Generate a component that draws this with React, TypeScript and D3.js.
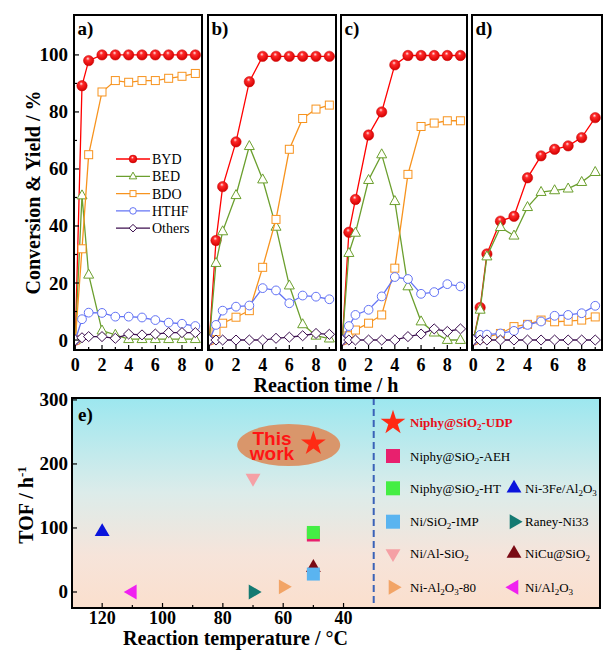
import React from 'react';
import * as d3 from 'd3';

// ---------- data: panels a-d (reaction time, h) ----------
const timeH = [0, 0.5, 1, 2, 3, 4, 5, 6, 7, 8, 9];
const seriesNames = ['BYD', 'BED', 'BDO', 'HTHF', 'Others'];

const aBYD = [0, 89.2, 98, 100, 100, 100, 100, 100, 100, 100, 100];
const aBED = [0, 50.7, 22.9, 3.3, 1.8, 0.3, 0.3, 0.3, 0.3, 0.3, 0.3];
const aBDO = [0, 32, 65, 87, 91, 90.4, 91, 91, 91.8, 92.5, 93.5];
const aHTHF = [0, 7.3, 9.6, 9.5, 8.2, 8.2, 7.9, 7.0, 6.1, 5.7, 4.9];
const aOthers = [0, 0.8, 1.2, 1.2, 0.6, 2.1, 1.8, 2.1, 2.6, 2.6, 2.6];

const bBYD = [0, 34.9, 53.8, 69.5, 90.6, 99.5, 99.5, 99.5, 99.5, 99.5, 99.5];
const bBED = [0, 27, 38.1, 50.8, 68, 56.3, 39.7, 19.1, 5.5, 1.5, 0.5];
const bBDO = [0, 2.9, 5.9, 8, 10.3, 25.5, 42.3, 66.9, 77.7, 81, 82.4];
const bHTHF = [0, 5.3, 10.3, 11.7, 12.1, 18.2, 17.4, 12.9, 15.6, 15.2, 14.3];
const bOthers = [0, 0, 0, 0, 0, 0, 0.6, 1.0, 1.5, 2.3, 2.0];

const cBYD = [0, 37.8, 49.3, 71.9, 80, 96.5, 99.8, 99.8, 99.8, 99.8, 99.8];
const cBED = [0, 30.5, 37.6, 56.1, 65.1, 48.7, 18.8, 6.5, 2.6, 0, 0];
const cBDO = [0, 1.5, 3.5, 5.9, 8.8, 25.2, 58.1, 74.9, 76.1, 76.9, 76.9];
const cHTHF = [0, 4.9, 8.8, 10.6, 15.3, 22.1, 21.4, 16.2, 16.8, 19.6, 18.8];
const cOthers = [0, 0, 0, 0, 0, 0, 1.2, 2.1, 3.9, 3.0, 3.9];

const dBYD = [0, 11.4, 30.2, 41.7, 43.4, 56.9, 64.6, 66.9, 68.1, 71, 78];
const dBED = [0, 10.6, 29.3, 39.6, 36.6, 46.6, 51.9, 52.5, 53.1, 55.4, 58.9];
const dBDO = [0, 0.6, 1.0, 2.3, 4.7, 5.5, 7.0, 6.4, 6.6, 7.0, 8.1];
const dHTHF = [0, 1.8, 1.9, 2.3, 3.2, 5.3, 6.5, 8.5, 8.8, 9.4, 12];
const dOthers = [0, 0, 0, 0, 0, 0, 0, 0, 0, 0, 0];

const timeTicks = [0, 2, 4, 6, 8];
const yieldTicks = [0, 20, 40, 60, 80, 100];

// ---------- data: panel e ----------
const catalysts = [
  'Niphy@SiO_2-UDP', 'Niphy@SiO_2-AEH', 'Niphy@SiO_2-HT', 'Ni/SiO_2-IMP', 'Ni/Al-SiO_2',
  'Ni-Al_2O_3-80', 'Ni-3Fe/Al_2O_3', 'Raney-Ni33', 'NiCu@SiO_2', 'Ni/Al_2O_3',
];
const catTemp = [50, 50, 50, 50, 70, 60, 120, 70, 50, 110];
const catTOF = [232, 89, 93, 28, 178, 8, 94, 0, 38, 0];
const tempTicks = [120, 100, 80, 60, 40];
const tofTicks = [0, 100, 200, 300];

// ---------- styles ----------
const serif = '"Liberation Serif", "Times New Roman", serif';
const sans = '"Liberation Sans", Arial, sans-serif';

const seriesStyle: Record<string, { color: string; marker: string }> = {
  BYD: { color: '#ff0000', marker: 'ball' },
  BED: { color: '#6b9f2e', marker: 'triangle' },
  BDO: { color: '#f7931e', marker: 'square' },
  HTHF: { color: '#6474f5', marker: 'circle' },
  Others: { color: '#3c0f4f', marker: 'diamond' },
};

const catStyle = [
  { shape: 'star', color: '#ff2a14', col: 0, row: 0 },
  { shape: 'square', color: '#e8206e', col: 0, row: 1 },
  { shape: 'square', color: '#44ee44', col: 0, row: 2 },
  { shape: 'square', color: '#5ab4f0', col: 0, row: 3 },
  { shape: 'down', color: '#f5a0a5', col: 0, row: 4 },
  { shape: 'right', color: '#f2a466', col: 0, row: 5 },
  { shape: 'up', color: '#0a14dc', col: 1, row: 2 },
  { shape: 'right', color: '#147a72', col: 1, row: 3 },
  { shape: 'up', color: '#7a0a14', col: 1, row: 4 },
  { shape: 'left', color: '#f020f0', col: 1, row: 5 },
];
const drawOrder = [6, 9, 4, 7, 5, 8, 3, 1, 2, 0];

function Marker({ type, x, y, s = 1, color }: any) {
  switch (type) {
    case 'ball':
      return <circle cx={x} cy={y} r={5.2 * s} fill="url(#ballGrad)" stroke="#c80000" strokeWidth={0.5} />;
    case 'triangle':
      return (
        <path
          d={`M${x},${y - 5.6 * s}L${x + 5 * s},${y + 3.4 * s}L${x - 5 * s},${y + 3.4 * s}Z`}
          fill="#fffffa" stroke={color} strokeWidth={1}
        />
      );
    case 'square':
      return <rect x={x - 4 * s} y={y - 4 * s} width={8 * s} height={8 * s} fill="#fff" stroke={color} strokeWidth={1} />;
    case 'circle':
      return <circle cx={x} cy={y} r={4.4 * s} fill="#fff" stroke={color} strokeWidth={1} />;
    case 'diamond':
      return (
        <path
          d={`M${x},${y - 5 * s}L${x + 5.2 * s},${y}L${x},${y + 5 * s}L${x - 5.2 * s},${y}Z`}
          fill="#fff" stroke={color} strokeWidth={1}
        />
      );
    default:
      return null;
  }
}

function triPath(dir: string, cx: number, cy: number, r: number) {
  const base: Record<string, number> = { up: -90, down: 90, right: 0, left: 180 };
  const a0 = base[dir];
  const pts = [0, 120, 240].map((d) => {
    const a = ((a0 + d) * Math.PI) / 180;
    return [cx + r * Math.cos(a), cy + r * Math.sin(a)];
  });
  return `M${pts[0][0]},${pts[0][1]}L${pts[1][0]},${pts[1][1]}L${pts[2][0]},${pts[2][1]}Z`;
}

function CatSymbol({ shape, color, x, y, size }: any) {
  if (shape === 'star') {
    const r = 13;
    const d = d3.symbol(d3.symbolStar, (r * r) / 0.8908)() as string;
    return <path d={d} transform={`translate(${x},${y})`} fill={color} />;
  }
  if (shape === 'square') {
    return <rect x={x - size / 2} y={y - size / 2} width={size} height={size} fill={color} />;
  }
  return <path d={triPath(shape, x, y, 8.6)} fill={color} />;
}

function SubText({ text, ...rest }: any) {
  const parts = text.split(/_(\d)/);
  const out: any[] = [];
  let shifted = false;
  parts.forEach((p: string, i: number) => {
    if (i % 2 === 1) {
      out.push(<tspan key={i} dy={3} fontSize={9}>{p}</tspan>);
      shifted = true;
    } else if (p) {
      out.push(<tspan key={i} dy={shifted ? -3 : 0}>{p}</tspan>);
      shifted = false;
    }
  });
  return <text {...rest}>{out}</text>;
}

const Y0 = 15;
const Y1 = 350;
const yScale = d3.scaleLinear().domain([-3.5, 114]).range([Y1, Y0]);

function Panel({ label, x0, x1, series, showY, showLegend, id }: any) {
  const xScale = d3.scaleLinear().domain([-0.1, 9.5]).range([x0, x1]);
  const line = d3.line<number>().x((_, i) => xScale(timeH[i])).y((v) => yScale(v));
  const minorTime = d3.range(0, 10, 1);
  return (
    <g>
      <defs>
        <clipPath id={`clip-${id}`}>
          <rect x={x0} y={Y0} width={x1 - x0} height={Y1 - Y0} />
        </clipPath>
      </defs>
      <rect x={x0} y={Y0} width={x1 - x0} height={Y1 - Y0} fill="#fff" />
      <g clipPath={`url(#clip-${id})`}>
        {seriesNames.map((name, si) => {
          const st = seriesStyle[name];
          const vals: number[] = series[si];
          return (
            <g key={name}>
              <path d={line(vals) as string} fill="none" stroke={st.color} strokeWidth={1.3} />
              {vals.map((v, i) => (
                <Marker key={i} type={st.marker} x={xScale(timeH[i])} y={yScale(v)} color={st.color} />
              ))}
            </g>
          );
        })}
      </g>
      {minorTime.map((t) => (
        <line key={t} x1={xScale(t)} x2={xScale(t)} y1={Y1} y2={Y1 - (t % 2 === 0 ? 5 : 3)} stroke="#000" strokeWidth={1.2} />
      ))}
      {timeTicks.map((t) => (
        <text key={t} x={xScale(t)} y={371} textAnchor="middle" fontFamily={serif} fontWeight="bold" fontSize={18}>
          {t}
        </text>
      ))}
      {showY && (
        <g>
          {d3.range(0, 110, 10).map((v) => (
            <line key={v} x1={x0} x2={x0 + (v % 20 === 0 ? 5 : 3)} y1={yScale(v)} y2={yScale(v)} stroke="#000" strokeWidth={1.2} />
          ))}
          {yieldTicks.map((v) => (
            <text key={v} x={68} y={yScale(v) + 6.5} textAnchor="end" fontFamily={serif} fontWeight="bold" fontSize={19}>
              {v}
            </text>
          ))}
        </g>
      )}
      {showLegend && (
        <g>
          {seriesNames.map((name, i) => {
            const st = seriesStyle[name];
            const y = 159 + i * 17.3;
            return (
              <g key={name}>
                <line x1={116} x2={150} y1={y} y2={y} stroke={st.color} strokeWidth={1.3} />
                <Marker type={st.marker} x={133} y={y} s={0.75} color={st.color} />
                <text x={152} y={y + 5} fontFamily={serif} fontSize={14}>{name}</text>
              </g>
            );
          })}
        </g>
      )}
      <rect x={x0} y={Y0} width={x1 - x0} height={Y1 - Y0} fill="none" stroke="#000" strokeWidth={2} />
      <text x={x0 + 3.5} y={35} fontFamily={serif} fontWeight="bold" fontSize={19}>{label}</text>
    </g>
  );
}

function PanelE() {
  const X0 = 72, X1 = 600, EY0 = 398, EY1 = 608;
  const xs = d3.scaleLinear().domain([130, -45]).range([X0, X1]);
  const ys = d3.scaleLinear().domain([-25, 303]).range([EY1, EY0]);
  const legX = [393, 514];
  const legTextX = [410, 525];
  const legRows = [422.7, 456, 488.3, 521.7, 553.5, 587.3];
  return (
    <g>
      <defs>
        <linearGradient id="bgGrad" x1="0" y1="0" x2="0" y2="1">
          <stop offset="0" stopColor="#9ce7ef" />
          <stop offset="0.45" stopColor="#dcecea" />
          <stop offset="0.75" stopColor="#f6e4da" />
          <stop offset="1" stopColor="#fbdfcd" />
        </linearGradient>
      </defs>
      <rect x={X0} y={EY0} width={X1 - X0} height={EY1 - EY0} fill="url(#bgGrad)" />
      <line x1={xs(30)} x2={xs(30)} y1={EY0} y2={EY1} stroke="#3a62b8" strokeWidth={2} strokeDasharray="7,4" />
      {d3.range(40, 130, 10).map((t) => (
        <line key={t} x1={xs(t)} x2={xs(t)} y1={EY1} y2={EY1 - (t % 20 === 0 ? 5 : 3)} stroke="#000" strokeWidth={1.2} />
      ))}
      {tofTicks.map((v) => (
        <line key={v} x1={X0} x2={X0 + 5} y1={ys(v)} y2={ys(v)} stroke="#000" strokeWidth={1.2} />
      ))}
      {tempTicks.map((t) => (
        <text key={t} x={xs(t)} y={624} textAnchor="middle" fontFamily={serif} fontWeight="bold" fontSize={18}>{t}</text>
      ))}
      {tofTicks.map((v) => (
        <text key={v} x={68} y={ys(v) + 6.5} textAnchor="end" fontFamily={serif} fontWeight="bold" fontSize={19}>{v}</text>
      ))}
      <ellipse cx={288.7} cy={445} rx={51.5} ry={21} fill="#d9966b" />
      <text x={272} y={444.5} textAnchor="middle" fontFamily={sans} fontWeight="bold" fontSize={19} fill="#ff1414">
        <tspan x={272}>This</tspan>
        <tspan x={272} dy={15.5}>work</tspan>
      </text>
      {drawOrder.map((i) => (
        <CatSymbol key={i} shape={catStyle[i].shape} color={catStyle[i].color} x={xs(catTemp[i])} y={ys(catTOF[i])} size={13} />
      ))}
      {catalysts.map((name, i) => {
        const st = catStyle[i];
        const y = legRows[st.row];
        return (
          <g key={name}>
            <CatSymbol shape={st.shape} color={st.color} x={legX[st.col]} y={y} size={14} />
            <SubText
              text={name}
              x={legTextX[st.col]}
              y={y + 4.5}
              fontFamily={serif}
              fontSize={13}
              fontWeight={i === 0 ? 'bold' : 'normal'}
              fill={i === 0 ? '#e8101a' : '#000'}
            />
          </g>
        );
      })}
      <rect x={X0} y={EY0} width={X1 - X0} height={EY1 - EY0} fill="none" stroke="#000" strokeWidth={2} />
      <text x={78} y={421} fontFamily={serif} fontWeight="bold" fontSize={19}>e)</text>
      <text x={235.5} y={645} textAnchor="middle" fontFamily={serif} fontWeight="bold" fontSize={20}>
        Reaction temperature / °C
      </text>
      <text transform="translate(33,505) rotate(-90)" textAnchor="middle" fontFamily={serif} fontWeight="bold" fontSize={20}>
        TOF / h<tspan dy={-7} fontSize={13}>-1</tspan>
      </text>
    </g>
  );
}

export default function App() {
  const panels = [
    { id: 'a', label: 'a)', x0: 74, x1: 202, series: [aBYD, aBED, aBDO, aHTHF, aOthers], showY: true, showLegend: true },
    { id: 'b', label: 'b)', x0: 208, x1: 336, series: [bBYD, bBED, bBDO, bHTHF, bOthers] },
    { id: 'c', label: 'c)', x0: 341, x1: 467, series: [cBYD, cBED, cBDO, cHTHF, cOthers] },
    { id: 'd', label: 'd)', x0: 472, x1: 602, series: [dBYD, dBED, dBDO, dHTHF, dOthers] },
  ];
  return (
    <svg width={607} height={650} style={{ position: 'absolute', left: 0, top: 0, background: '#fff' }}>
      <defs>
        <radialGradient id="ballGrad" cx="0.45" cy="0.4" r="0.6" fx="0.42" fy="0.3">
          <stop offset="0" stopColor="#ffe6e6" />
          <stop offset="0.3" stopColor="#ff2a2a" />
          <stop offset="1" stopColor="#d40000" />
        </radialGradient>
      </defs>
      <rect x={0} y={0} width={607} height={650} fill="#fff" />
      {panels.map((p) => (
        <Panel key={p.id} {...p} />
      ))}
      <text x={326} y={392} textAnchor="middle" fontFamily={serif} fontWeight="bold" fontSize={20}>
        Reaction time / h
      </text>
      <text transform="translate(40,192.5) rotate(-90)" textAnchor="middle" fontFamily={serif} fontWeight="bold" fontSize={20}>
        Conversion &amp; Yield / %
      </text>
      <PanelE />
    </svg>
  );
}
